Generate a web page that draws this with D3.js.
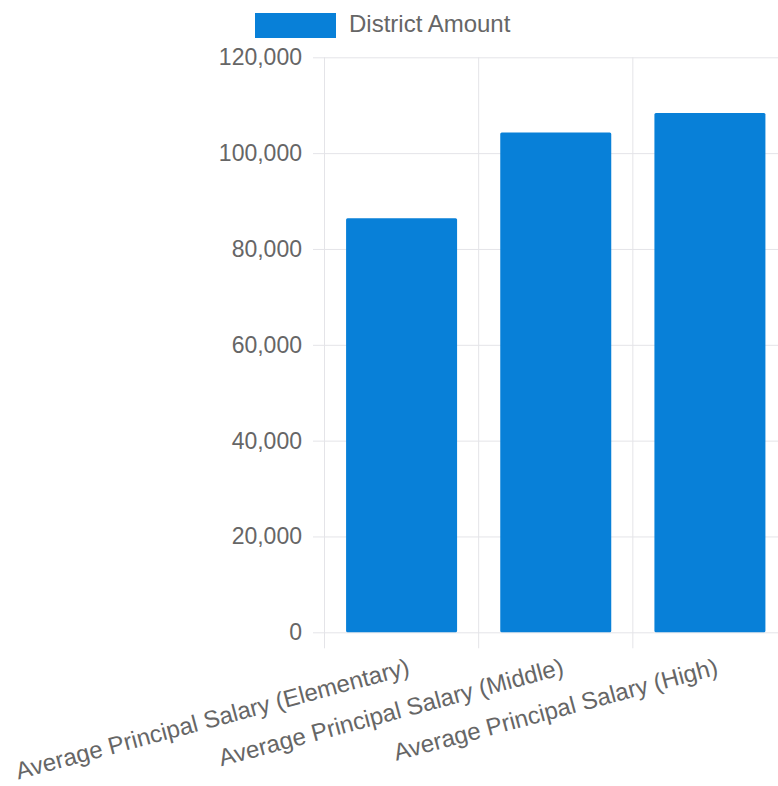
<!DOCTYPE html>
<html>
<head>
<meta charset="utf-8">
<script src="https://cdn.jsdelivr.net/npm/d3@7"></script>
<style>
  html, body { margin: 0; padding: 0; background: #ffffff; }
  svg { display: block; font-family: "Liberation Sans", Arial, Helvetica, sans-serif; }
</style>
</head>
<body>
<svg id="chart" width="778" height="786"></svg>
<script>
// Chart data
const categories = [
  "Average Principal Salary (Elementary)",
  "Average Principal Salary (Middle)",
  "Average Principal Salary (High)"
];
const seriesName = "District Amount";
const districtAmount = [86400, 104300, 108400];
const yTickValues = [0, 20000, 40000, 60000, 80000, 100000, 120000];

const barColor = "#0880d8";
const gridColor = "#e4e4e8";
const textColor = "#666666";

const svg = d3.select("#chart");

const plot = { left: 324.5, right: 787, top: 57.3, bottom: 632.3 };

const x = d3.scaleBand()
  .domain(categories)
  .range([plot.left, plot.right])
  .paddingInner(0)
  .paddingOuter(0);

const y = d3.scaleLinear()
  .domain([0, 120000])
  .range([plot.bottom, plot.top]);

// Horizontal grid lines with tick labels
const yAxis = d3.axisLeft(y)
  .tickValues(yTickValues)
  .tickFormat(d3.format(","))
  .tickSizeInner(-(plot.right - 313))
  .tickSizeOuter(0)
  .tickPadding(11);

const yg = svg.append("g")
  .attr("transform", "translate(313,0)")
  .call(yAxis);
yg.select(".domain").remove();
yg.selectAll(".tick line").attr("stroke", gridColor).attr("stroke-width", 1);
yg.selectAll(".tick text")
  .attr("fill", textColor)
  .attr("font-size", 23)
  .attr("font-family", "\"Liberation Sans\", Arial, sans-serif");

// Vertical grid lines at category boundaries
const boundaries = categories.map(c => x(c)).concat([plot.right]);
svg.append("g")
  .selectAll("line")
  .data(boundaries)
  .join("line")
  .attr("x1", d => d)
  .attr("x2", d => d)
  .attr("y1", plot.top)
  .attr("y2", plot.bottom + 16)
  .attr("stroke", gridColor)
  .attr("stroke-width", 1);

// Bars
const barFrac = 0.72;
svg.append("g")
  .selectAll("rect")
  .data(districtAmount)
  .join("rect")
  .attr("x", (d, i) => x(categories[i]) + x.bandwidth() * (1 - barFrac) / 2)
  .attr("width", x.bandwidth() * barFrac)
  .attr("y", d => y(d))
  .attr("height", d => y(0) - y(d))
  .attr("rx", 1.5)
  .attr("fill", barColor);

// Rotated category labels
svg.append("g")
  .selectAll("text")
  .data(categories)
  .join("text")
  .attr("transform", d => `translate(${x(d) + x.bandwidth() / 2 + 7},${666}) rotate(-15)`)
  .attr("text-anchor", "end")
  .attr("dominant-baseline", "central")
  .attr("fill", textColor)
  .attr("font-size", 24)
  .text(d => d);

// Legend
const legend = svg.append("g");
legend.append("rect")
  .attr("x", 255).attr("y", 13)
  .attr("width", 81).attr("height", 25)
  .attr("fill", barColor);
legend.append("text")
  .attr("x", 349).attr("y", 23)
  .attr("dominant-baseline", "central")
  .attr("fill", textColor)
  .attr("font-size", 24)
  .text(seriesName);
</script>
</body>
</html>
